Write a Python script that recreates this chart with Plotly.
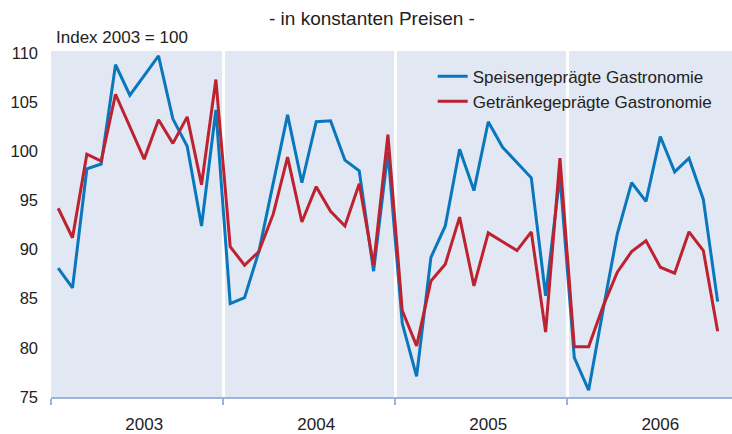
import plotly.graph_objects as go

years = ["2003", "2004", "2005", "2006"]
months = [f"{y}-{m:02d}" for y in years for m in range(1, 13)][:47]

speisen = [
    88.1, 86.1, 98.2, 98.7, 108.8, 105.7, 107.7, 109.7, 103.3, 100.5, 92.4, 104.2,
    84.5, 85.1, 89.8, 96.6, 103.7, 96.8, 103.0, 103.1, 99.1, 98.0, 87.8, 99.9,
    82.5, 77.1, 89.2, 92.4, 100.2, 96.0, 103.0, 100.4, 98.9, 97.3, 85.3, 97.5,
    79.0, 75.7, 83.8, 91.6, 96.8, 94.9, 101.5, 97.9, 99.3, 95.1, 84.7,
]
getraenke = [
    94.2, 91.2, 99.7, 99.0, 105.8, 102.5, 99.2, 103.2, 100.8, 103.5, 96.6, 107.3,
    90.3, 88.4, 89.8, 93.6, 99.4, 92.8, 96.4, 93.9, 92.4, 96.7, 88.4, 101.7,
    83.8, 80.2, 86.8, 88.5, 93.3, 86.3, 91.7, 90.8, 89.9, 91.8, 81.6, 99.3,
    80.1, 80.1, 84.2, 87.7, 89.8, 90.9, 88.2, 87.6, 91.8, 89.9, 81.7,
]
y_ticks = [75, 80, 85, 90, 95, 100, 105, 110]

x = [i + 0.5 for i in range(len(months))]

BLUE = "#0a77bd"
RED = "#be2231"
BG = "#e1e8f3"
AXIS = "#9ab5d8"
TXT = "#222222"
FONT = "Liberation Sans, Arial, sans-serif"

fig = go.Figure()
fig.add_trace(go.Scatter(x=x, y=speisen, mode="lines", name="Speisengeprägte Gastronomie",
                         line=dict(color=BLUE, width=3), customdata=months,
                         hovertemplate="%{customdata}: %{y}<extra></extra>"))
fig.add_trace(go.Scatter(x=x, y=getraenke, mode="lines", name="Getränkegeprägte Gastronomie",
                         line=dict(color=RED, width=3), customdata=months,
                         hovertemplate="%{customdata}: %{y}<extra></extra>"))

fig.update_layout(
    width=732, height=434,
    margin=dict(l=51, r=0, t=51, b=37),
    paper_bgcolor="white",
    plot_bgcolor=BG,
    font=dict(family=FONT, size=16, color=TXT),
    showlegend=True,
    legend=dict(x=0.5605, y=0.978, xanchor="left", yanchor="top",
                bgcolor="rgba(0,0,0,0)", font=dict(size=17, color=TXT),
                tracegroupgap=0, itemwidth=30),
    xaxis=dict(
        range=[0, 47.5], showgrid=False, zeroline=False,
        tickmode="array", tickvals=[6.5 + 12 * k for k in range(4)], ticktext=years,
        ticks="outside", ticklen=11, tickcolor="rgba(0,0,0,0)",
        showline=True, linecolor=AXIS, linewidth=1.5,
        tickfont=dict(size=17, color=TXT),
        minor=dict(tickmode="array", tickvals=[0, 12, 24, 36], ticks="outside",
                   ticklen=6, tickcolor=AXIS, tickwidth=1.5,
                   showgrid=True, gridcolor="white", gridwidth=2.5),
    ),
    yaxis=dict(
        range=[75, 110.2], tickmode="array", tickvals=y_ticks,
        showgrid=False, zeroline=False, showline=False, ticks="",
        tickfont=dict(size=16.5, color=TXT), ticklabelstandoff=12,
    ),
    annotations=[
        dict(text="- in konstanten Preisen -", xref="paper", yref="paper",
             x=(372 - 51) / 681, y=1, yshift=33, showarrow=False,
             xanchor="center", yanchor="middle", font=dict(size=19, color=TXT)),
        dict(text="Index 2003 = 100", xref="paper", yref="paper",
             x=(54 - 51) / 681, y=1, yshift=14, showarrow=False,
             xanchor="left", yanchor="middle", font=dict(size=17, color=TXT)),
    ],
)

fig.write_html("out.html", config={"displayModeBar": False},
               post_script="document.body.style.margin='0';")
